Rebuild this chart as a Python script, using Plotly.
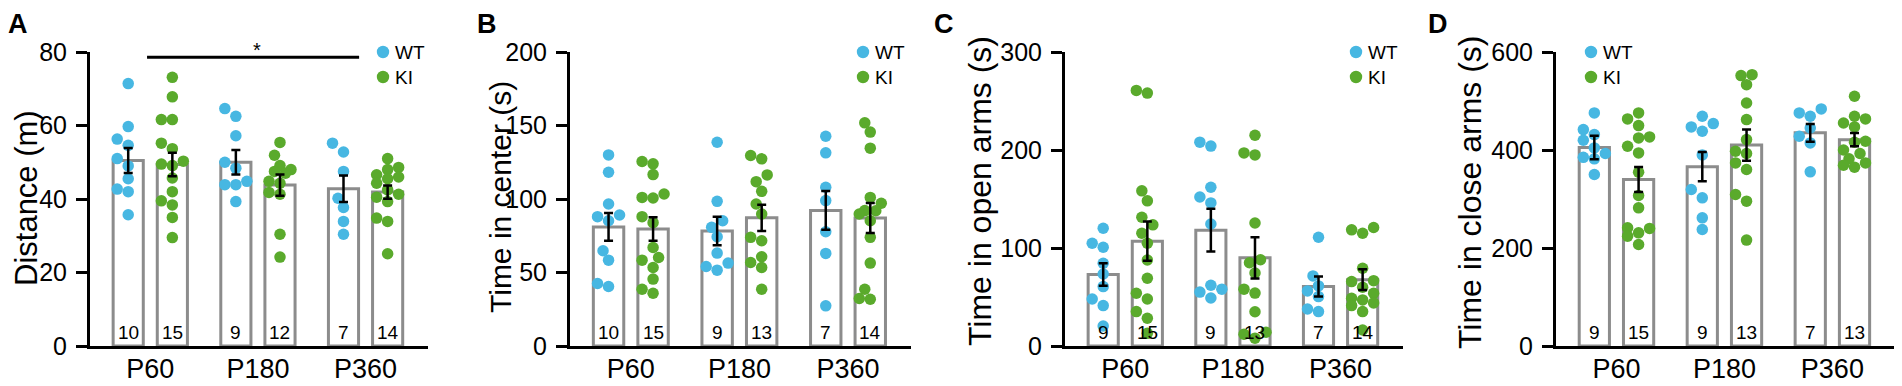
import math
import plotly.graph_objects as go

# page offset: the browser body has an 8px margin around the figure
OX, OY = 8, 8
FW, FH = 1894, 378
FONT = "Arial, Liberation Sans, Helvetica, sans-serif"
WT_COLOR = "#47b7e2"
KI_COLOR = "#5aaa2c"
BAR_EDGE = "#8c8c8c"

ages = ["P60", "P180", "P360"]

# ---- Panel A: Distance (m)
dist_wt = [[71.4, 59.7, 56.3, 54.6, 51.0, 49.0, 45.5, 42.7, 42.0, 35.7],
           [64.6, 62.5, 57.2, 50.0, 48.4, 44.8, 43.9, 43.9, 39.3],
           [55.2, 52.8, 47.5, 40.2, 37.7, 33.9, 30.4]]
dist_ki = [[73.1, 67.8, 61.6, 61.6, 55.2, 53.7, 50.3, 49.5, 49.1, 45.7, 42.0, 39.5, 38.4, 35.0, 29.5],
           [55.4, 51.9, 49.1, 48.0, 47.5, 47.0, 44.8, 44.3, 41.8, 41.3, 30.4, 24.2],
           [51.0, 48.6, 48.0, 46.6, 46.0, 45.5, 44.3, 42.5, 41.3, 40.5, 39.3, 34.8, 33.9, 25.1]]
dist_wt_mean = [50.5, 50.0, 42.8]
dist_wt_sem = [3.4, 3.3, 3.6]
dist_ki_mean = [49.4, 43.8, 41.9]
dist_ki_sem = [3.2, 2.9, 1.8]
dist_n = [10, 15, 9, 12, 7, 14]

# ---- Panel B: Time in center (s)
center_wt = [[130.0, 118.2, 96.6, 89.1, 88.0, 85.2, 64.8, 58.4, 42.5, 40.5],
             [138.6, 98.4, 85.2, 80.7, 74.3, 63.2, 56.4, 54.1, 51.6],
             [142.7, 131.4, 108.0, 98.9, 77.7, 63.0, 27.3]]
center_ki = [[125.5, 123.9, 116.6, 103.4, 101.1, 100.7, 88.0, 83.9, 67.0, 60.2, 58.4, 53.4, 45.5, 38.6, 35.9],
             [129.6, 127.3, 116.4, 111.8, 105.2, 96.6, 89.8, 73.9, 71.6, 60.7, 56.8, 53.4, 38.6],
             [151.8, 145.5, 134.6, 101.1, 97.1, 92.1, 92.0, 89.8, 85.2, 73.9, 56.4, 38.6, 32.3, 31.8]]
center_wt_mean = [81.0, 78.2, 92.2]
center_wt_sem = [9.4, 9.7, 13.2]
center_ki_mean = [79.6, 87.2, 87.0]
center_ki_sem = [8.0, 8.9, 10.2]
center_n = [10, 15, 9, 13, 7, 14]

# ---- Panel C: Time in open arms (s)
open_wt = [[120.2, 104.9, 100.8, 84.4, 73.5, 60.6, 48.0, 41.2, 20.4],
           [208.0, 204.0, 162.0, 152.0, 146.0, 124.5, 62.0, 58.0, 55.0, 49.0],
           [111.0, 71.5, 61.3, 56.2, 50.4, 37.8, 35.1]]
open_ki = [[260.8, 258.1, 158.3, 148.1, 131.4, 123.6, 115.1, 104.9, 87.8, 69.1, 53.8, 48.0, 35.1, 28.3, 12.9],
           [215.0, 197.0, 195.0, 125.5, 88.0, 85.0, 74.5, 58.0, 54.0, 35.0, 14.0, 12.0, 8.0],
           [120.9, 118.5, 115.1, 79.3, 66.7, 65.7, 60.0, 53.8, 48.7, 47.0, 44.0, 41.2, 35.1, 16.3]]
open_wt_mean = [73.0, 118.2, 60.6]
open_wt_sem = [11.4, 21.8, 10.2]
open_ki_mean = [107.0, 90.0, 67.7]
open_ki_sem = [20.0, 21.0, 10.5]
open_n = [9, 15, 9, 13, 7, 14]

# ---- Panel D: Time in close arms (s)
close_wt = [[475.7, 441.7, 431.5, 420.0, 404.3, 392.8, 385.0, 381.9, 350.0],
            [468.9, 453.9, 447.1, 438.3, 390.0, 319.4, 302.4, 261.6, 237.8],
            [483.8, 475.7, 468.9, 445.0, 428.0, 414.5, 355.4]]
close_ki = [[475.7, 463.4, 449.8, 426.7, 424.7, 407.7, 394.1, 354.7, 307.1, 282.0, 241.2, 240.0, 231.0, 224.2, 207.2],
            [553.8, 551.8, 533.4, 496.0, 462.0, 421.3, 397.5, 392.8, 373.7, 360.1, 309.2, 295.6, 216.1],
            [509.6, 468.9, 463.4, 455.0, 447.1, 417.9, 415.8, 400.0, 392.8, 381.9, 373.7, 368.9, 365.0]]
close_wt_mean = [405.0, 366.0, 435.0]
close_wt_sem = [24.0, 30.0, 18.0]
close_ki_mean = [340.0, 410.0, 421.0]
close_ki_sem = [25.5, 32.0, 13.6]
close_n = [9, 15, 9, 13, 7, 13]

panels = [
    dict(letter="A", title="Distance (m)", ymax=80, dtick=20,
         wt=dist_wt, ki=dist_ki, wtm=dist_wt_mean, wts=dist_wt_sem,
         kim=dist_ki_mean, kis=dist_ki_sem, n=dist_n),
    dict(letter="B", title="Time in center (s)", ymax=200, dtick=50,
         wt=center_wt, ki=center_ki, wtm=center_wt_mean, wts=center_wt_sem,
         kim=center_ki_mean, kis=center_ki_sem, n=center_n),
    dict(letter="C", title="Time in open arms (s)", ymax=300, dtick=100,
         wt=open_wt, ki=open_ki, wtm=open_wt_mean, wts=open_wt_sem,
         kim=open_ki_mean, kis=open_ki_sem, n=open_n),
    dict(letter="D", title="Time in close arms (s)", ymax=600, dtick=200,
         wt=close_wt, ki=close_ki, wtm=close_wt_mean, wts=close_wt_sem,
         kim=close_ki_mean, kis=close_ki_sem, n=close_n),
]

# layout geometry (screen pixels)
xdoms_px = [(90, 428), (570, 911), (1065, 1403), (1556, 1895)]
ytop_px, ybot_px = 52, 346
letter_px = [7, 476, 933, 1427]
legend_px = [383, 863, 1356, 1591]
title_cx = [26, 500, 980, 1470]
title_cy = [198, 197, 191, 192]
title_size = [31, 30, 32, 32]
XR = [0.44, 3.58]
OFF = 0.205
BW = 0.28
group_x = [1, 2, 3]


def px2paper_x(px):
    return (px - OX) / FW


def px2paper_y(py):
    return 1 - (py - OY) / FH


def swarm(vals, ppu_y, dot=10.5, step=5.5):
    order = sorted(range(len(vals)), key=lambda i: vals[i])
    placed = []
    offs = [0.0] * len(vals)
    cands = [0.0, -step, step, -2 * step, 2 * step]
    for i in order:
        y = vals[i] * ppu_y
        best, bestd = None, -1
        for c in cands:
            d = min([math.hypot(c - px, y - py) for px, py in placed] or [1e9])
            if d >= dot:
                best = c
                break
            if d > bestd:
                bestd, best = d, c
        offs[i] = best
        placed.append((best, y))
    return offs


fig = go.Figure()
shapes = []
annotations = []
ydom = [px2paper_y(ybot_px), px2paper_y(ytop_px)]
common_font = dict(family=FONT, color="black")

for k, p in enumerate(panels):
    sfx = "" if k == 0 else str(k + 1)
    xa, ya = "x" + sfx, "y" + sfx
    x0p, x1p = xdoms_px[k]
    ppu_x = (x1p - x0p) / (XR[1] - XR[0])
    ppu_y = (ybot_px - ytop_px) / p["ymax"]

    wt_x = [g - OFF for g in group_x]
    ki_x = [g + OFF for g in group_x]
    bx = [v for pair in zip(wt_x, ki_x) for v in pair]
    bm = [v for pair in zip(p["wtm"], p["kim"]) for v in pair]
    bs = [v for pair in zip(p["wts"], p["kis"]) for v in pair]

    fig.add_trace(go.Bar(x=bx, y=bm, width=BW, xaxis=xa, yaxis=ya,
                         marker=dict(color="white", line=dict(color=BAR_EDGE, width=3)),
                         showlegend=False, hoverinfo="skip"))

    for name, data, xs, col in (("WT", p["wt"], wt_x, WT_COLOR), ("KI", p["ki"], ki_x, KI_COLOR)):
        px_list, py_list = [], []
        for gi, vals in enumerate(data):
            offs = swarm(vals, ppu_y)
            px_list += [xs[gi] + o / ppu_x for o in offs]
            py_list += vals
        fig.add_trace(go.Scatter(x=px_list, y=py_list, mode="markers", name=name,
                                 xaxis=xa, yaxis=ya, cliponaxis=False,
                                 marker=dict(size=11.5, color=col, line=dict(width=0)),
                                 showlegend=False))

    fig.add_trace(go.Scatter(x=bx, y=bm, mode="markers", xaxis=xa, yaxis=ya,
                             marker=dict(size=1, color="rgba(0,0,0,0)"),
                             error_y=dict(type="data", array=bs, visible=True,
                                          color="black", thickness=2.5, width=4.5),
                             showlegend=False, hoverinfo="skip"))

    fig.update_layout(**{
        ("xaxis" + sfx): dict(domain=[px2paper_x(x0p), px2paper_x(x1p)], range=XR,
                              anchor=ya, showline=True, linecolor="black", linewidth=3,
                              showgrid=False, zeroline=False, ticks="", automargin=False,
                              tickvals=group_x, ticktext=ages,
                              tickfont=dict(size=27, **common_font), ticklabelstandoff=-3),
        ("yaxis" + sfx): dict(domain=ydom, range=[0, p["ymax"]], anchor=xa,
                              showline=True, linecolor="black", linewidth=3,
                              showgrid=False, zeroline=False, ticks="outside",
                              ticklen=11, tickwidth=3, tickcolor="black", automargin=False,
                              dtick=p["dtick"], tick0=0,
                              tickfont=dict(size=25, **common_font), ticklabelstandoff=4),
    })

    # y-axis title (rotated)
    annotations.append(dict(x=px2paper_x(title_cx[k]), y=px2paper_y(title_cy[k]),
                            xref="paper", yref="paper", text=p["title"], textangle=-90,
                            showarrow=False, xanchor="center", yanchor="middle", borderpad=0,
                            font=dict(size=title_size[k], **common_font)))

    # n labels
    for xi, nn in zip(bx, p["n"]):
        annotations.append(dict(x=xi, y=0.047, xref=xa, yref=ya + " domain", text=str(nn),
                                showarrow=False, xanchor="center", yanchor="middle",
                                font=dict(size=19, **common_font)))

    # panel letter
    annotations.append(dict(x=px2paper_x(letter_px[k]), y=px2paper_y(8), xref="paper", yref="paper",
                            text="<b>%s</b>" % p["letter"], showarrow=False, borderpad=0,
                            xanchor="left", yanchor="top", font=dict(size=27, **common_font)))

    # custom legend
    lx = legend_px[k]
    for j, (lab, col) in enumerate((("WT", WT_COLOR), ("KI", KI_COLOR))):
        cy = 52 + 25 * j
        r = 6.2
        shapes.append(dict(type="circle", xref="paper", yref="paper",
                           x0=px2paper_x(lx - r), x1=px2paper_x(lx + r),
                           y0=px2paper_y(cy + r), y1=px2paper_y(cy - r),
                           fillcolor=col, line=dict(width=0)))
        annotations.append(dict(x=px2paper_x(lx + 10), y=px2paper_y(cy), xref="paper", yref="paper",
                                text=lab, showarrow=False, xanchor="left", yanchor="middle",
                                font=dict(size=19, **common_font)))

# significance bar in panel A (P60 vs P360)
sig_y = 78.6
shapes.append(dict(type="line", xref="x", yref="y", x0=group_x[0] - 0.03, x1=group_x[2] - 0.06,
                   y0=sig_y, y1=sig_y, line=dict(color="black", width=3)))
annotations.append(dict(x=group_x[1] - 0.01, y=sig_y, xref="x", yref="y", text="*",
                        showarrow=False, xanchor="center", yanchor="bottom", yshift=-6,
                        font=dict(size=20, family=FONT, color="black")))

fig.update_layout(width=FW, height=FH, margin=dict(l=0, r=0, t=0, b=0, autoexpand=False),
                  paper_bgcolor="white", plot_bgcolor="white", showlegend=False,
                  barmode="overlay", shapes=shapes, annotations=annotations,
                  font=dict(family=FONT, color="black"))

fig.write_html("out.html")
